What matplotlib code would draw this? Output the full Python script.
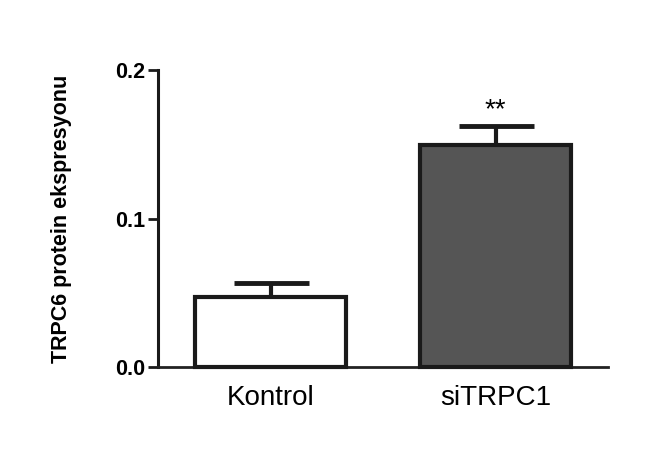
import matplotlib
matplotlib.use("Agg")
import matplotlib.pyplot as plt

categories = ["Kontrol", "siTRPC1"]
means = [0.0473, 0.1495]
errors = [0.0095, 0.0128]
colors = ["white", "#555555"]
yticks = [0.0, 0.1, 0.2]
ytick_labels = ["0.0", "0.1", "0.2"]

plt.rcParams['font.family'] = ['Liberation Sans', 'DejaVu Sans']

fig = plt.figure(figsize=(6.5, 4.67), dpi=100)
ax = fig.add_axes([158/650, 1 - 367/467, 450/650, 297/467])

x = list(range(len(categories)))
bars = ax.bar(x, means, width=0.67, color=colors, edgecolor="#1a1a1a",
              linewidth=3, clip_on=False, zorder=3)
ax.errorbar(x, means, yerr=[[0]*len(errors), errors], fmt='none',
            ecolor="#1a1a1a", elinewidth=3, capsize=27, capthick=3.5,
            zorder=2, clip_on=False)

ax.text(1, 0.173, "**", ha='center', va='center', fontsize=20)

ax.set_xlim(-0.5, 1.5)
ax.set_ylim(0, 0.2)
ax.set_yticks(yticks)
ax.set_yticklabels(ytick_labels, fontsize=15.5, fontweight='bold')
ax.set_xticks(x)
ax.set_xticklabels(categories, fontsize=20)
ax.tick_params(axis='x', length=0, pad=13)
ax.tick_params(axis='y', length=7, width=2, color="#1a1a1a", pad=2)

for s in ['top', 'right']:
    ax.spines[s].set_visible(False)
ax.spines['left'].set_linewidth(2.2)
ax.spines['left'].set_color("#1a1a1a")
ax.spines['bottom'].set_linewidth(2)
ax.spines['bottom'].set_color("#222222")

ax.set_ylabel("TRPC6 protein ekspresyonu", fontsize=15.5, fontweight='bold')
ax.yaxis.set_label_coords(-0.19, 0.5)

fig.savefig("out.png", dpi=100)
